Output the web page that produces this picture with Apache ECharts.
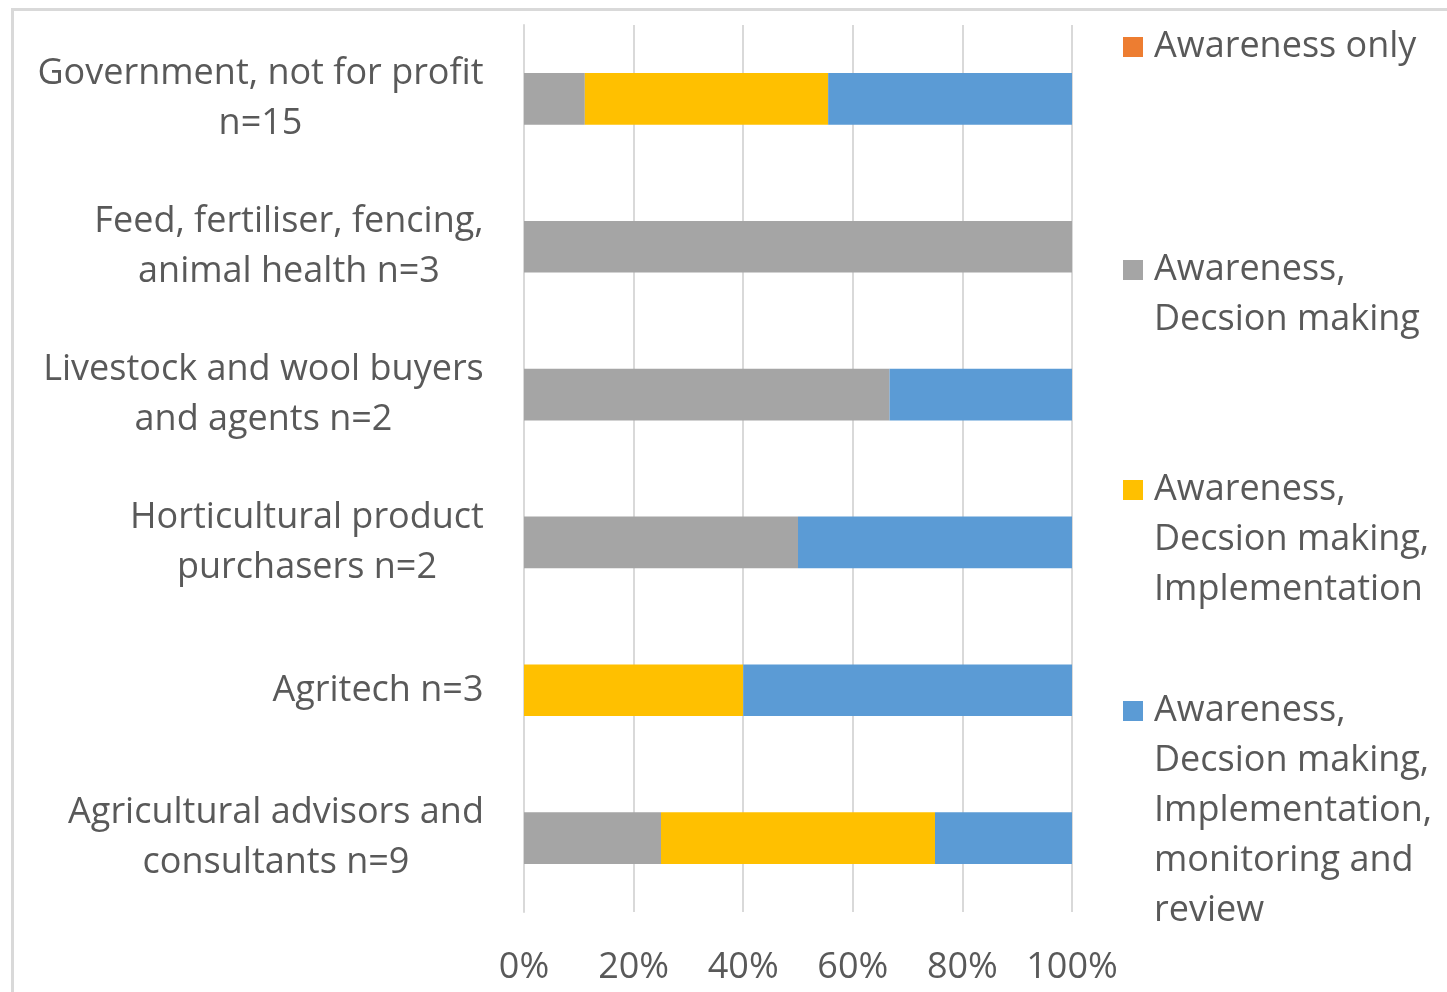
<!DOCTYPE html>
<html>
<head>
<meta charset="utf-8">
<script src="https://cdn.jsdelivr.net/npm/echarts@6/dist/echarts.min.js"></script>
<style>
html,body{margin:0;padding:0;background:#fff;}
#chart{width:1447px;height:992px;}
</style>
</head>
<body>
<div id="chart"></div>
<script>
// ---- data ----
const categories = [
  "Government, not for profit\nn=15",
  "Feed, fertiliser, fencing,\nanimal health n=3",
  "Livestock and wool buyers\nand agents n=2",
  "Horticultural product\npurchasers n=2",
  "Agritech n=3",
  "Agricultural advisors and\nconsultants n=9"
];
const seriesNames = [
  "Awareness only",
  "Awareness, Decsion making",
  "Awareness, Decsion making, Implementation",
  "Awareness, Decsion making, Implementation, monitoring and review"
];
const legendLabels = [
  "Awareness only",
  "Awareness,\nDecsion making",
  "Awareness,\nDecsion making,\nImplementation",
  "Awareness,\nDecsion making,\nImplementation,\nmonitoring and\nreview"
];
const awarenessOnly     = [0, 0, 0, 0, 0, 0];
const awarenessDecision = [11.1, 100, 66.7, 50, 0, 25];
const awarenessDecImpl  = [44.4, 0, 0, 0, 40, 50];
const awarenessFull     = [44.5, 0, 33.3, 50, 60, 25];
const xTicks = [0, 20, 40, 60, 80, 100];

// ---- style ----
const FONT = 'Open Sans';
const FS = 36;
const LH = 50;
const TXT = '#595959';
const colors = ['#ED7D31', '#A5A5A5', '#FFC000', '#5B9BD5'];
const legendFirstLineY = [47, 270, 490, 711];

const ctx = document.createElement('canvas').getContext('2d');
ctx.font = FS + 'px "' + FONT + '"';
const rich = {};
categories.forEach((c, i) => {
  const w = Math.max(...c.split('\n').map(l => ctx.measureText(l).width));
  rich['r' + i] = {width: Math.ceil(w), align: 'center', fontFamily: FONT, fontSize: FS, lineHeight: LH, color: TXT};
});

const seriesData = [awarenessOnly, awarenessDecision, awarenessDecImpl, awarenessFull];

const legends = legendLabels.map((lab, i) => {
  const n = lab.split('\n').length;
  return {
    data: [seriesNames[i]],
    orient: 'vertical',
    left: 1123,
    top: legendFirstLineY[i] - (n - 0.5) * LH,
    padding: 0,
    icon: 'rect',
    itemWidth: 20,
    itemHeight: 20,
    formatter: () => '\n'.repeat(n - 1) + lab,
    textStyle: {fontFamily: FONT, fontSize: FS, lineHeight: LH, color: TXT, padding: [0, 0, 0, 6]}
  };
});

const chart = echarts.init(document.getElementById('chart'), null, {renderer: 'canvas'});
chart.setOption({
  animation: false,
  backgroundColor: '#fff',
  color: colors,
  graphic: [{
    type: 'rect', left: 10, top: 7,
    shape: {width: 1460, height: 1000},
    style: {fill: 'none', stroke: '#d9d9d9', lineWidth: 3},
    silent: true, z: -1
  }],
  legend: legends,
  grid: {left: 524, right: 375, top: 25, bottom: 80, containLabel: false},
  xAxis: {
    type: 'value', min: xTicks[0], max: xTicks[xTicks.length - 1], interval: xTicks[1] - xTicks[0],
    axisLine: {show: false}, axisTick: {show: false},
    splitLine: {lineStyle: {color: '#d9d9d9', width: 2}},
    axisLabel: {formatter: v => v + '%', fontFamily: FONT, fontSize: FS, color: TXT, margin: 38}
  },
  yAxis: {
    type: 'category', inverse: true, data: categories,
    axisLine: {lineStyle: {color: '#d9d9d9', width: 2}},
    axisTick: {length: 14, lineStyle: {color: '#d9d9d9', width: 2}},
    axisLabel: {
      margin: 40, align: 'right',
      fontFamily: FONT, fontSize: FS, lineHeight: LH, color: TXT,
      formatter: (v, idx) => v.split('\n').map(l => '{r' + idx + '|' + l + '}').join('\n'),
      rich: rich
    }
  },
  series: seriesNames.map((name, i) => ({
    name: name, type: 'bar', stack: 'total', barWidth: '35%',
    data: seriesData[i],
    itemStyle: {color: colors[i]}
  }))
});
</script>
</body>
</html>
